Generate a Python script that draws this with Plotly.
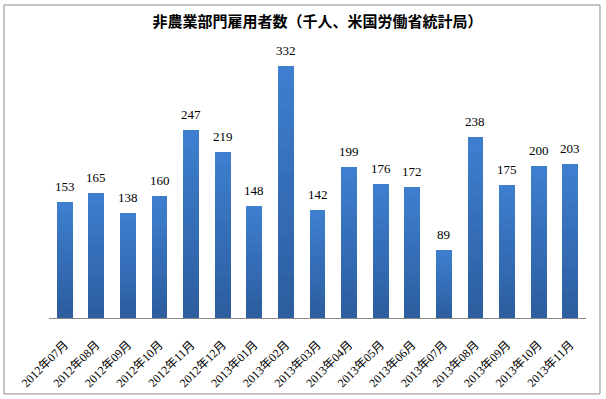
import plotly.graph_objects as go

categories = ["2012年07月", "2012年08月", "2012年09月", "2012年10月", "2012年11月", "2012年12月",
              "2013年01月", "2013年02月", "2013年03月", "2013年04月", "2013年05月", "2013年06月",
              "2013年07月", "2013年08月", "2013年09月", "2013年10月", "2013年11月"]
values = [153, 165, 138, 160, 247, 219, 148, 332, 142, 199, 176, 172, 89, 238, 175, 200, 203]
title_text = "非農業部門雇用者数（千人、米国労働省統計局）"

# gradient emulation: stack N equal slices of each bar, dark at bottom, light at top
N = 12
top_rgb = (62, 126, 206)
bot_rgb = (44, 94, 160)

fig = go.Figure()
for i in range(N):
    t = i / (N - 1)
    c = tuple(round(bot_rgb[k] + (top_rgb[k] - bot_rgb[k]) * t) for k in range(3))
    fig.add_trace(go.Bar(
        x=categories, y=[v / N for v in values],
        marker=dict(color="rgb(%d,%d,%d)" % c, line=dict(width=0)),
        width=0.5, showlegend=False, hoverinfo="skip"))

annotations = [dict(x=c, y=v, xref="x", yref="y", text=str(v), showarrow=False,
                    yanchor="bottom", yshift=6,
                    font=dict(family="Liberation Serif, Noto Sans CJK JP", size=13, color="#000000"))
               for c, v in zip(categories, values)]

fig.update_layout(
    width=606, height=399,
    barmode="stack", bargap=0,
    paper_bgcolor="white", plot_bgcolor="white",
    margin=dict(l=49, r=20, t=52, b=81, autoexpand=False),
    title=dict(text="<b>" + title_text + "</b>", x=0.5, xref="paper", xanchor="center",
               y=0.945, yanchor="middle", automargin=False,
               font=dict(family="Noto Sans CJK JP", size=15, color="#000000")),
    xaxis=dict(showline=True, linecolor="#868686", linewidth=1, ticks="", tickangle=-45,
               automargin=False, ticklabelstandoff=14,
               tickfont=dict(family="Liberation Serif, Noto Sans CJK JP", size=12, color="#000000"),
               showgrid=False, zeroline=False, range=[-0.5, 16.5]),
    yaxis=dict(visible=False, range=[0, 350], showgrid=False, zeroline=False, automargin=False),
    annotations=annotations,
    shapes=[dict(type="rect", xref="paper", yref="paper",
                 x0=-0.0838, x1=1.026, y0=-0.2857, y1=1.1767,
                 line=dict(color="#8c8c8c", width=1), fillcolor="rgba(0,0,0,0)", layer="below")],
)

fig.write_html("out.html", config={"displayModeBar": False, "staticPlot": True},
               post_script="document.body.style.margin='0';document.body.style.overflow='hidden';")
